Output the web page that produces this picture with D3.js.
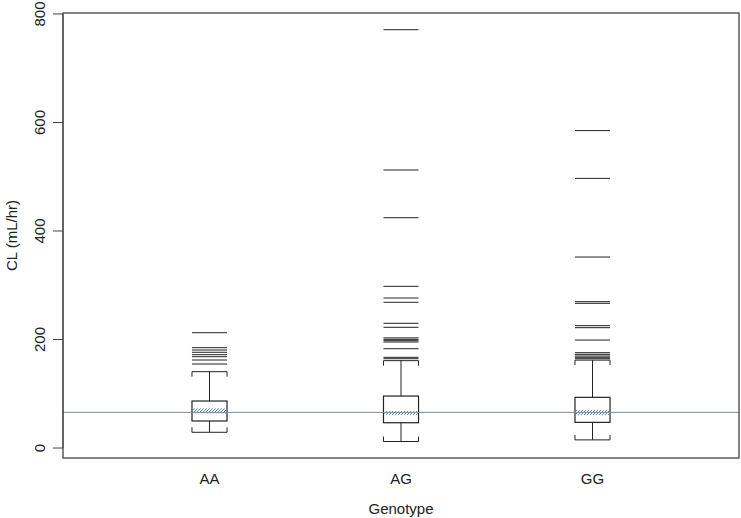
<!DOCTYPE html>
<html>
<head>
<meta charset="utf-8">
<script src="https://cdn.jsdelivr.net/npm/d3@7"></script>
<style>
  body { margin: 0; background: #fff; }
  text { font-family: "Liberation Sans", Arial, sans-serif; }
</style>
</head>
<body>
<div id="chart"></div>
<script>
// boxplot of CL by genotype

const genotypes = ["AA", "AG", "GG"];
const q1 = [49.8, 46.6, 47.3];
const q3 = [86.6, 95.8, 93.4];
const whiskerLo = [29, 12, 15];
const whiskerHi = [140.7, 161, 162];
const bandLo = [64, 61, 61];
const bandHi = [73, 68, 70];
const outliersAA = [212.5, 184.9, 180.6, 176.4, 172, 168.3, 162.2, 154.8];
const outliersAG = [771, 512.4, 424.5, 298, 276.5, 268.6, 229.9, 222.5, 203, 200.3, 197.8, 195.4, 183, 167.2, 164.6];
const outliersGG = [585, 497, 352, 269.7, 266.7, 225.5, 221.8, 199, 175.7, 172.7, 169.6, 167.2, 164.6];
const outliers = [outliersAA, outliersAG, outliersGG];
const refLine = 65.7;
const yTicks = [0, 200, 400, 600, 800];

const width = 741, height = 518;
const mLeft = 63, mRight = 739, mTop = 13, mBottom = 458;

const svg = d3.select("#chart")
    .append("svg")
    .attr("width", width)
    .attr("height", height);

const x = d3.scaleLinear().domain([0.235, 3.765]).range([mLeft, mRight]);
const y = d3.scaleLinear().domain([-18.4, 801.8]).range([mBottom, mTop]);
const boxW = x(1.183) - x(1);  // ~70px

// hatch pattern for the median band
const defs = svg.append("defs");
const pat = defs.append("pattern")
    .attr("id", "hatch")
    .attr("patternUnits", "userSpaceOnUse")
    .attr("width", 3)
    .attr("height", 3);
pat.append("path")
    .attr("d", "M0,3 L3,0 M-1,1 L1,-1 M2,4 L4,2")
    .attr("stroke", "#3a6fb0")
    .attr("stroke-width", 0.9);

const groups = genotypes.map((g, i) => ({
    name: g, pos: i + 1, q1: q1[i], q3: q3[i],
    lo: whiskerLo[i], hi: whiskerHi[i],
    bLo: bandLo[i], bHi: bandHi[i], out: outliers[i]
}));

const g = svg.selectAll("g.box")
    .data(groups)
    .join("g")
    .attr("class", "box");

// whiskers
g.append("line")
    .attr("x1", d => x(d.pos)).attr("x2", d => x(d.pos))
    .attr("y1", d => y(d.q3)).attr("y2", d => y(d.hi))
    .attr("stroke", "#222").attr("stroke-width", 1);
g.append("line")
    .attr("x1", d => x(d.pos)).attr("x2", d => x(d.pos))
    .attr("y1", d => y(d.q1)).attr("y2", d => y(d.lo))
    .attr("stroke", "#222").attr("stroke-width", 1);

// bracket caps
g.append("path")
    .attr("d", d => {
        const x0 = x(d.pos) - boxW / 2, x1 = x(d.pos) + boxW / 2, yy = y(d.hi);
        return `M${x0},${yy + 5}V${yy}H${x1}V${yy + 5}`;
    })
    .attr("fill", "none").attr("stroke", "#222").attr("stroke-width", 1);
g.append("path")
    .attr("d", d => {
        const x0 = x(d.pos) - boxW / 2, x1 = x(d.pos) + boxW / 2, yy = y(d.lo);
        return `M${x0},${yy - 5}V${yy}H${x1}V${yy - 5}`;
    })
    .attr("fill", "none").attr("stroke", "#222").attr("stroke-width", 1);

// box
g.append("rect")
    .attr("x", d => x(d.pos) - boxW / 2)
    .attr("width", boxW)
    .attr("y", d => y(d.q3))
    .attr("height", d => y(d.q1) - y(d.q3))
    .attr("fill", "#fff")
    .attr("stroke", "#222").attr("stroke-width", 1.2);

// hatched median band
g.append("rect")
    .attr("x", d => x(d.pos) - boxW / 2 + 1)
    .attr("width", boxW - 2)
    .attr("y", d => y(d.bHi))
    .attr("height", d => y(d.bLo) - y(d.bHi))
    .attr("fill", "url(#hatch)");

// outliers as horizontal dashes
g.selectAll("line.out")
    .data(d => d.out.map(v => ({ pos: d.pos, v })))
    .join("line")
    .attr("class", "out")
    .attr("x1", d => x(d.pos) - boxW / 2)
    .attr("x2", d => x(d.pos) + boxW / 2)
    .attr("y1", d => y(d.v)).attr("y2", d => y(d.v))
    .attr("stroke", "#222").attr("stroke-width", 1);

// reference line
svg.append("line")
    .attr("x1", mLeft).attr("x2", mRight)
    .attr("y1", y(refLine)).attr("y2", y(refLine))
    .attr("stroke", "#7f8a90").attr("stroke-width", 1);

// frame
svg.append("rect")
    .attr("x", mLeft).attr("y", mTop)
    .attr("width", mRight - mLeft).attr("height", mBottom - mTop)
    .attr("fill", "none")
    .attr("stroke", "#444").attr("stroke-width", 1.3);

// y axis
const yAxis = svg.append("g")
    .attr("transform", `translate(${mLeft},0)`);
yAxis.append("line")
    .attr("x1", 0).attr("x2", 0)
    .attr("y1", y(0)).attr("y2", y(800))
    .attr("stroke", "#444");
yAxis.selectAll("line.tick")
    .data(yTicks)
    .join("line")
    .attr("class", "tick")
    .attr("x1", -10).attr("x2", 0)
    .attr("y1", d => y(d)).attr("y2", d => y(d))
    .attr("stroke", "#444");
yAxis.selectAll("text")
    .data(yTicks)
    .join("text")
    .attr("transform", d => `translate(-18,${y(d)}) rotate(-90)`)
    .attr("text-anchor", "middle")
    .style("font-size", "15px")
    .style("fill", "#222")
    .text(d => d);

svg.append("text")
    .attr("transform", `translate(12,${(mTop + mBottom) / 2}) rotate(-90)`)
    .attr("text-anchor", "middle")
    .attr("dy", "0.35em")
    .style("font-size", "15px")
    .style("fill", "#222")
    .text("CL (mL/hr)");

// x labels
svg.selectAll("text.xlab")
    .data(groups)
    .join("text")
    .attr("class", "xlab")
    .attr("x", d => x(d.pos))
    .attr("y", 484)
    .attr("text-anchor", "middle")
    .style("font-size", "15px")
    .style("fill", "#222")
    .text(d => d.name);

svg.append("text")
    .attr("x", x(2))
    .attr("y", 514)
    .attr("text-anchor", "middle")
    .style("font-size", "15px")
    .style("fill", "#222")
    .text("Genotype");
</script>
</body>
</html>
